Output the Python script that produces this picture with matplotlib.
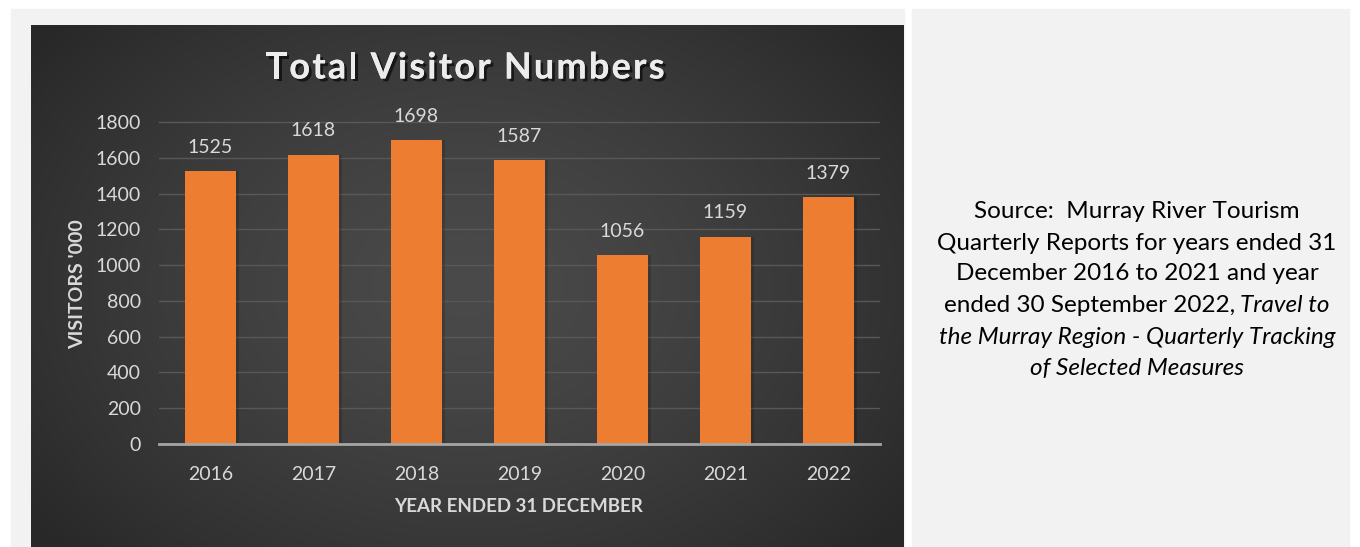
import numpy as np
import matplotlib
matplotlib.use("Agg")
import matplotlib.pyplot as plt
from matplotlib.patches import Rectangle
import matplotlib.patheffects as pe

years = ['2016', '2017', '2018', '2019', '2020', '2021', '2022']
visitors = [1525, 1618, 1698, 1587, 1056, 1159, 1379]
y_ticks = [0, 200, 400, 600, 800, 1000, 1200, 1400, 1600, 1800]

plt.rcParams['font.family'] = ['Lato', 'DejaVu Sans']

W, H = 1360, 547
fig = plt.figure(figsize=(W / 100, H / 100), dpi=100)
fig.patch.set_facecolor('white')
renderer = fig.canvas.get_renderer()

# фон: серые панели и тёмный градиент
bg = fig.add_axes([0, 0, 1, 1])
bg.set_xlim(0, W)
bg.set_ylim(H, 0)
bg.axis('off')
bg.add_patch(Rectangle((11, 9), 893, H - 9, color='#f2f2f2', zorder=0))
bg.add_patch(Rectangle((912, 9), 437, H - 9, color='#f2f2f2', zorder=0))

gx, gy = np.meshgrid(np.linspace(0, 1, 400), np.linspace(0, 1, 250))
d = np.sqrt(((gx - 0.5) / 0.62) ** 2 + ((gy - 0.5) / 0.75) ** 2)
shade = 0.29 - 0.13 * np.clip(d, 0, 1) ** 1.4
rgb = np.dstack([shade, shade, shade])
bg.imshow(rgb, extent=(31, 904, H, 25), aspect='auto', zorder=1,
          interpolation='bilinear')

# основной график
ax_left, ax_right = 159, 880
ax_bottom, top_px = 444, 122
ymax = 1900
height_px = (ax_bottom - top_px) * ymax / 1800
ax = fig.add_axes([ax_left / W, (H - ax_bottom) / H,
                   (ax_right - ax_left) / W, height_px / H])
ax.patch.set_alpha(0)

x = np.arange(len(years))
ax.bar(x + 0.03, visitors, width=0.5, color='black', alpha=0.15, zorder=2)
bars = ax.bar(x, visitors, width=0.5, color='#ed7d31', zorder=3)
for xi, v in zip(x, visitors):
    ax.annotate(str(v), (xi, v), xytext=(0, 11), textcoords='offset points',
                ha='center', va='bottom', color='#d9d9d9', fontsize=14)

ax.set_xlim(-0.5, len(years) - 0.5)
ax.set_ylim(0, ymax)
ax.set_yticks(y_ticks)
ax.set_xticks(x)
ax.set_xticklabels(years)
ax.yaxis.grid(True, color='#585858', linewidth=1.0, zorder=0)
ax.set_axisbelow(True)
for s in ['top', 'right', 'left']:
    ax.spines[s].set_visible(False)
ax.spines['bottom'].set_color('#a6a6a6')
ax.spines['bottom'].set_linewidth(2)
ax.spines['bottom'].set_zorder(4)
ax.tick_params(axis='y', length=0, pad=13, labelsize=14, labelcolor='#d9d9d9')
ax.tick_params(axis='x', length=0, pad=16, labelsize=14, labelcolor='#d9d9d9')

# заголовок с разрядкой букв
title = 'Total Visitor Numbers'
shadow = [pe.withSimplePatchShadow(offset=(2, -2), shadow_rgbFace='black', alpha=0.6), pe.Normal()]
tracking = 2.2
chars = [fig.text(0, 1 - 68 / H, ch, ha='left', va='center', fontsize=26,
                  fontweight='bold', color='#ececec', path_effects=shadow)
         for ch in title]
full = fig.text(0, 0, title, fontsize=26, fontweight='bold')
full_w = full.get_window_extent(renderer).width
full.remove()
char_w = []
for ch in title:
    t = fig.text(0, 0, 'l' + ch + 'l', fontsize=26, fontweight='bold')
    t2 = fig.text(0, 0, 'll', fontsize=26, fontweight='bold')
    char_w.append(t.get_window_extent(renderer).width - t2.get_window_extent(renderer).width)
    t.remove()
    t2.remove()
scale = full_w / sum(char_w)
total = full_w + tracking * (len(title) - 1)
pos = 465 - total / 2
for t, w in zip(chars, char_w):
    t.set_x(pos / W)
    pos += w * scale + tracking

fig.text(78 / W, 1 - 284 / H, "VISITORS '000", ha='center', va='center', rotation=90,
         fontsize=14, fontweight='bold', color='#d9d9d9')
fig.text(518 / W, 1 - 507 / H, 'YEAR ENDED 31 DECEMBER', ha='center', va='center',
         fontsize=13.5, fontweight='bold', color='#d9d9d9')

# подпись источника
cx = 1137
src_size = 17.5
lines = [
    [('Source:  Murray River Tourism', 'normal')],
    [('Quarterly Reports for years ended 31', 'normal')],
    [('December 2016 to 2021 and year', 'normal')],
    [('ended 30 September 2022,', 'normal'), ('Travel to', 'italic')],
    [('the Murray Region - Quarterly Tracking', 'italic')],
    [('of Selected Measures', 'italic')],
]
line_y = [212, 243, 274, 305, 337, 368]
for parts, ly in zip(lines, line_y):
    texts = [fig.text(0, 1 - ly / H, t, fontsize=src_size, style=st, color='black',
                      ha='left', va='center') for t, st in parts]
    widths = [t.get_window_extent(renderer).width for t in texts]
    gap = src_size * 0.3
    total = sum(widths) + gap * (len(texts) - 1)
    start = cx - total / 2
    for t, w in zip(texts, widths):
        t.set_x(start / W)
        start += w + gap

fig.savefig('out.png', dpi=100, facecolor='white')
